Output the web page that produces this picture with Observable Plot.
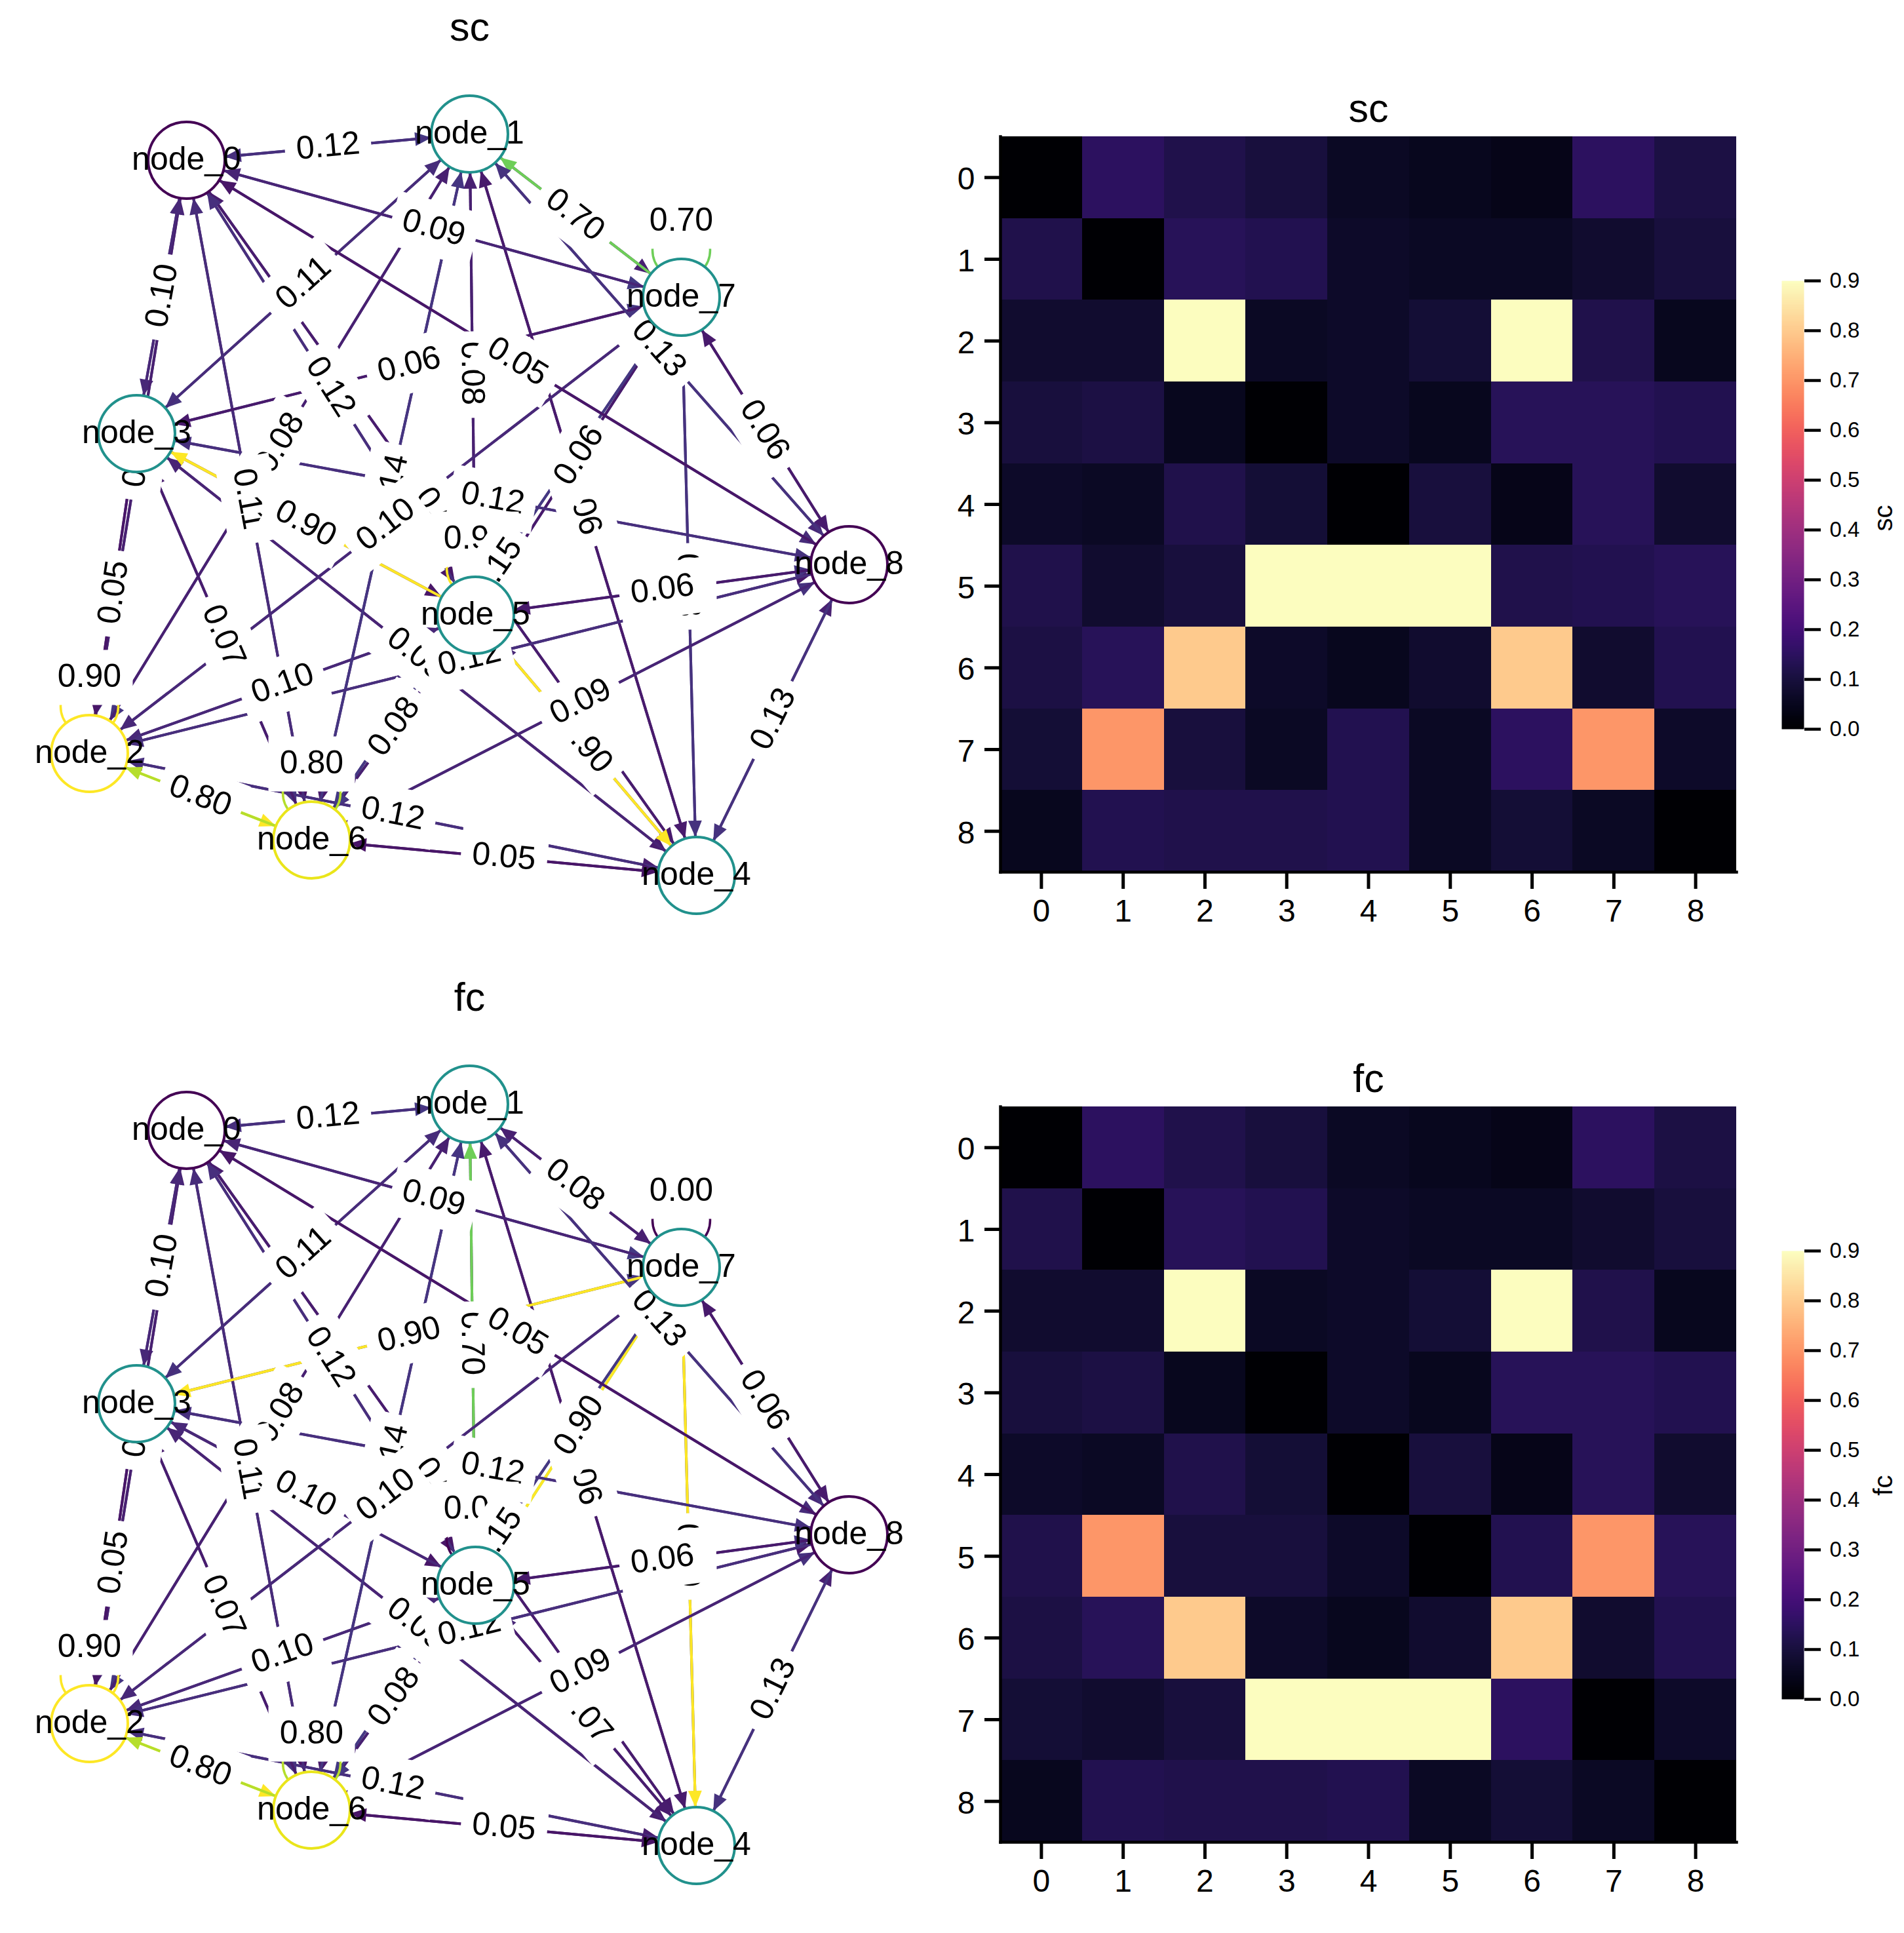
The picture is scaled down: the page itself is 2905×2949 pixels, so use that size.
<!DOCTYPE html>
<html><head><meta charset="utf-8">
<script src="https://cdn.jsdelivr.net/npm/d3@7"></script>
<script src="https://cdn.jsdelivr.net/npm/@observablehq/plot@0.6"></script>
<style>html,body{margin:0;padding:0;background:#fff}#page{position:relative;width:2905px;height:2949px;overflow:hidden}</style>
</head><body><div id="page"></div>
<script>
const indices = [0,1,2,3,4,5,6,7,8];
const node_names = ["node_0","node_1","node_2","node_3","node_4","node_5","node_6","node_7","node_8"];
const node_x = [284,716,136,208,1062,725,475,1039,1295];
const node_y = [244,204,1149,661,1335,938,1281,453,861];
const node_ring = [0,0.45,0.9,0.45,0.45,0.45,0.87,0.45,0];
const loop_nodes = [2,5,6,7];
const colorbar_ticks = [0,0.1,0.2,0.3,0.4,0.5,0.6,0.7,0.8,0.9];
const sc_matrix = [
 [0,.15,.12,.10,.06,.05,.04,.15,.11],
 [.12,0,.14,.13,.07,.06,.06,.08,.10],
 [.08,.08,.90,.06,.07,.09,.90,.12,.05],
 [.10,.11,.05,0,.07,.05,.14,.14,.13],
 [.07,.06,.12,.09,0,.10,.04,.14,.08],
 [.12,.08,.10,.90,.90,.90,.12,.13,.14],
 [.11,.14,.80,.07,.05,.08,.80,.08,.13],
 [.09,.70,.10,.06,.13,.06,.15,.70,.07],
 [.05,.13,.12,.12,.13,.06,.09,.06,0]
];
const fc_matrix = [
 [0,.15,.12,.10,.06,.05,.04,.15,.11],
 [.12,0,.14,.13,.07,.06,.06,.08,.10],
 [.08,.08,.90,.06,.07,.09,.90,.12,.05],
 [.10,.11,.05,0,.07,.05,.14,.14,.13],
 [.07,.06,.12,.09,0,.10,.04,.14,.08],
 [.12,.70,.10,.10,.07,0,.13,.70,.14],
 [.11,.14,.80,.07,.05,.08,.80,.08,.13],
 [.09,.08,.10,.90,.90,.90,.15,0,.07],
 [.05,.13,.12,.12,.13,.06,.09,.06,0]
];
// paint order of the edge labels: later labels mask earlier ones
const label_order = [[0,2],[0,4],[1,2],[1,4],[1,5],[1,6],[3,4],[4,7],
 [0,1],[0,3],[0,5],[0,6],[0,7],[0,8],[1,3],[1,7],[1,8],[2,2],[2,3],[2,4],[2,5],[2,6],[2,7],[2,8],
 [3,5],[3,6],[3,7],[3,8],[4,5],[4,6],[4,8],[5,6],[5,7],[5,8],[6,6],[6,8],[7,7],[7,8],[5,5],[6,7]];

const FONT = "'Liberation Sans', Arial, Helvetica, sans-serif";
const page = document.getElementById("page");
const R = 58.5, HEAD_L = 25, HEAD_W = 21, LOOP_OFFSET = 72, LOOP_R = 44, LABEL_OFFSET = 116;
const BOX_W = 132, BOX_H = 84, LABEL_FONT = 50;

const headShape = {draw(c){ c.moveTo(0,R); c.lineTo(-HEAD_W/2,R+HEAD_L); c.lineTo(HEAD_W/2,R+HEAD_L); c.closePath(); }};
const boxShape = {draw(c){ c.rect(-BOX_W/2,-BOX_H/2,BOX_W,BOX_H); }};

function place(svg,left,top){
  svg.style.position="absolute"; svg.style.left=left+"px"; svg.style.top=top+"px";
  svg.style.maxWidth="none"; svg.style.background="transparent";
  page.appendChild(svg);
}
function readable(a){ if(a>90) return a-180; if(a<=-90) return a+180; return a; }

function graphPanel(title,M,top,h){
  const marks=[];
  for(const i of indices) for(const j of indices){
    if(i===j) continue;
    const dx=node_x[j]-node_x[i], dy=node_y[j]-node_y[i];
    const e={x1:node_x[i],y1:node_y[i],x2:node_x[j],y2:node_y[j],v:M[i][j],rot:Math.atan2(dx,-dy)*180/Math.PI};
    marks.push(Plot.link([e],{x1:"x1",y1:"y1",x2:"x2",y2:"y2",stroke:"v",strokeWidth:4,strokeLinecap:"butt"}));
    marks.push(Plot.vector([e],{x:"x2",y:"y2",rotate:"rot",length:0,shape:headShape,fill:"v",stroke:"none"}));
  }
  marks.push(Plot.dot(loop_nodes.map(i=>({x:node_x[i],y:node_y[i]-LOOP_OFFSET,v:M[i][i]})),
    {x:"x",y:"y",r:LOOP_R,fill:"none",stroke:"v",strokeWidth:3.5}));
  for(const [a,b] of label_order){
    const hi=Math.max(a,b), lo=Math.min(a,b);
    let l;
    if(a===b) l={x:node_x[a],y:node_y[a]-LABEL_OFFSET,rot:0,t:M[a][a].toFixed(2)};
    else l={x:(node_x[a]+node_x[b])/2,y:(node_y[a]+node_y[b])/2,
      rot:readable(Math.atan2(node_y[b]-node_y[a],node_x[b]-node_x[a])*180/Math.PI),t:M[hi][lo].toFixed(2)};
    marks.push(Plot.vector([l],{x:"x",y:"y",rotate:"rot",length:0,shape:boxShape,fill:"white",stroke:"none"}));
    marks.push(Plot.text([l],{x:"x",y:"y",dy:-2,rotate:"rot",text:"t",fontSize:LABEL_FONT,fill:"black",lineAnchor:"middle",textAnchor:"middle"}));
  }
  const nodes=indices.map(i=>({x:node_x[i],y:node_y[i],v:node_ring[i],n:node_names[i]}));
  marks.push(Plot.dot(nodes,{x:"x",y:"y",r:R,fill:"white",stroke:"v",strokeWidth:4}));
  marks.push(Plot.text(nodes,{x:"x",y:"y",dy:-2,text:"n",fontSize:LABEL_FONT,fill:"black",lineAnchor:"middle"}));
  marks.push(Plot.text([title],{x:()=>716,y:()=>42,text:d=>d,fontSize:61,fill:"black",lineAnchor:"middle"}));
  const svg=Plot.plot({width:1400,height:h,margin:0,
    style:{fontFamily:FONT},
    x:{domain:[0,1400],range:[0,1400],axis:null},
    y:{domain:[0,h],range:[0,h],axis:null},
    color:{type:"linear",scheme:"viridis",domain:[0,0.9]},
    marks});
  place(svg,0,top);
}

function heatPanel(title,M,top){
  const cells=indices.flatMap(r=>indices.map(c=>({r,c,v:M[r][c]})));
  const svg=Plot.plot({width:1300,height:1330,marginLeft:126,marginRight:51,marginTop:108,marginBottom:100,
    style:{fontFamily:FONT},
    x:{type:"band",domain:indices,padding:0,round:false},
    y:{type:"band",domain:indices,padding:0,round:false},
    color:{type:"linear",scheme:"magma",domain:[0,0.9]},
    marks:[
      Plot.cell(cells,{x:"c",y:"r",fill:"v",shapeRendering:"crispEdges"}),
      Plot.frame({anchor:"left",stroke:"black",strokeWidth:4.5}),
      Plot.frame({anchor:"bottom",stroke:"black",strokeWidth:4.5}),
      Plot.axisX({anchor:"bottom",tickSize:26,tickPadding:15,fontSize:48,strokeWidth:5,label:null,tickFormat:d=>String(d),fill:"black",stroke:"black"}),
      Plot.axisY({anchor:"left",tickSize:24,text:null,strokeWidth:5,label:null,stroke:"black"}),
      Plot.axisY({anchor:"left",tickSize:0,tickPadding:39,dy:3,fontSize:48,label:null,tickFormat:d=>String(d),fill:"black"}),
      Plot.text([title],{frameAnchor:"top",dy:-42,text:d=>d,fontSize:61,fill:"black",lineAnchor:"middle"})
    ]});
  place(svg,1400,top);
}

function colorbar(title,top){
  const svg=Plot.plot({width:205,height:750,marginLeft:18,marginRight:153,marginTop:28,marginBottom:38,
    style:{fontFamily:FONT},
    x:{domain:[0,1],axis:null},
    y:{domain:[0,0.9]},
    color:{type:"linear",scheme:"magma",domain:[0,0.9]},
    marks:[
      Plot.raster({fill:(x,y)=>y,x1:0,x2:1,y1:0,y2:0.9,pixelSize:1,imageRendering:"auto"}),
      Plot.axisY(colorbar_ticks,{anchor:"right",tickSize:25,tickPadding:14,fontSize:33,strokeWidth:4.5,label:null,tickFormat:d=>d.toFixed(1),fill:"black",stroke:"black"}),
      Plot.text([title],{frameAnchor:"right",dx:122,rotate:-90,text:d=>d,fontSize:40,fill:"black",lineAnchor:"middle"})
    ]});
  place(svg,2700,top);
}

graphPanel("sc",sc_matrix,0,1480);
graphPanel("fc",fc_matrix,1480,1469);
heatPanel("sc",sc_matrix,100);
heatPanel("fc",fc_matrix,1580);
colorbar("sc",400);
colorbar("fc",1880);
</script></body></html>
